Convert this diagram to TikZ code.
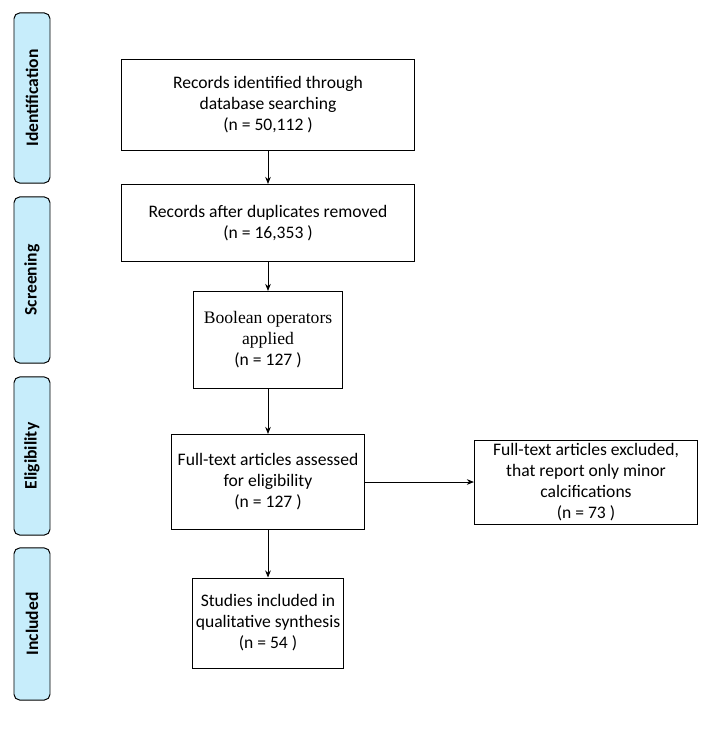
\documentclass[tikz,border=0pt]{standalone}
\usepackage{fontspec}
\setmainfont{Carlito}
\newfontfamily\serifbox{Liberation Serif}
\usetikzlibrary{arrows.meta,positioning}

\begin{document}
\begin{tikzpicture}
	[
		x=0.025cm, y=-0.025cm,
		font=\fontsize{12.5}{15}\selectfont,
		B/.style = {rectangle, align=center, draw, line width=0.7pt, inner sep=0pt},
		S/.style = {rectangle, rounded corners=4pt, draw, line width=0.7pt, fill=cyan!22,
			minimum width=0.9cm, inner sep=0pt, font=\fontsize{12.5}{15}\selectfont\bfseries},
		A/.style = {-{Stealth[length=5pt,width=4pt]}, line width=0.6pt},
	]
	\useasboundingbox (0,0) rectangle (713,749);

	% stage bands
	\node[S, minimum height=4.25cm] (ident) at (32, 98) {\rotatebox{90}{Identification}};
	\node[S, minimum height=4.15cm] (scree) at (32,280) {\rotatebox{90}{Screening}};
	\node[S, minimum height=3.95cm] (eligi) at (32,456) {\rotatebox{90}{Eligibility}};
	\node[S, minimum height=3.8cm]  (inclu) at (32,624) {\rotatebox{90}{Included}};

	% flow boxes
	\node[B, minimum width=7.33cm, minimum height=2.25cm] (rec)  at (268,105) {Records identified through\\database searching\\(n = 50,112 )};
	\node[B, minimum width=7.33cm, minimum height=1.93cm] (dup)  at (268,223) {Records after duplicates removed\\(n = 16,353 )};
	\node[B, minimum width=3.73cm, minimum height=2.43cm] (bool) at (268,340) {{\serifbox Boolean operators}\\{\serifbox applied}\\(n = 127 )};
	\node[B, minimum width=4.83cm, minimum height=2.38cm] (full) at (268,482) {Full-text articles assessed\\for eligibility\\(n = 127 )};
	\node[B, minimum width=5.58cm, minimum height=2.1cm]  (excl) at (586,482) {Full-text articles excluded,\\that report only minor\\calcifications\\(n = 73 )};
	\node[B, minimum width=3.78cm, minimum height=2.25cm] (stud) at (268,623) {Studies included in\\qualitative synthesis\\(n = 54 )};

	\foreach \from/\to in {rec/dup,dup/bool,bool/full,full/excl,full/stud}
	\draw[A] (\from) -- (\to);

\end{tikzpicture}
\end{document}
